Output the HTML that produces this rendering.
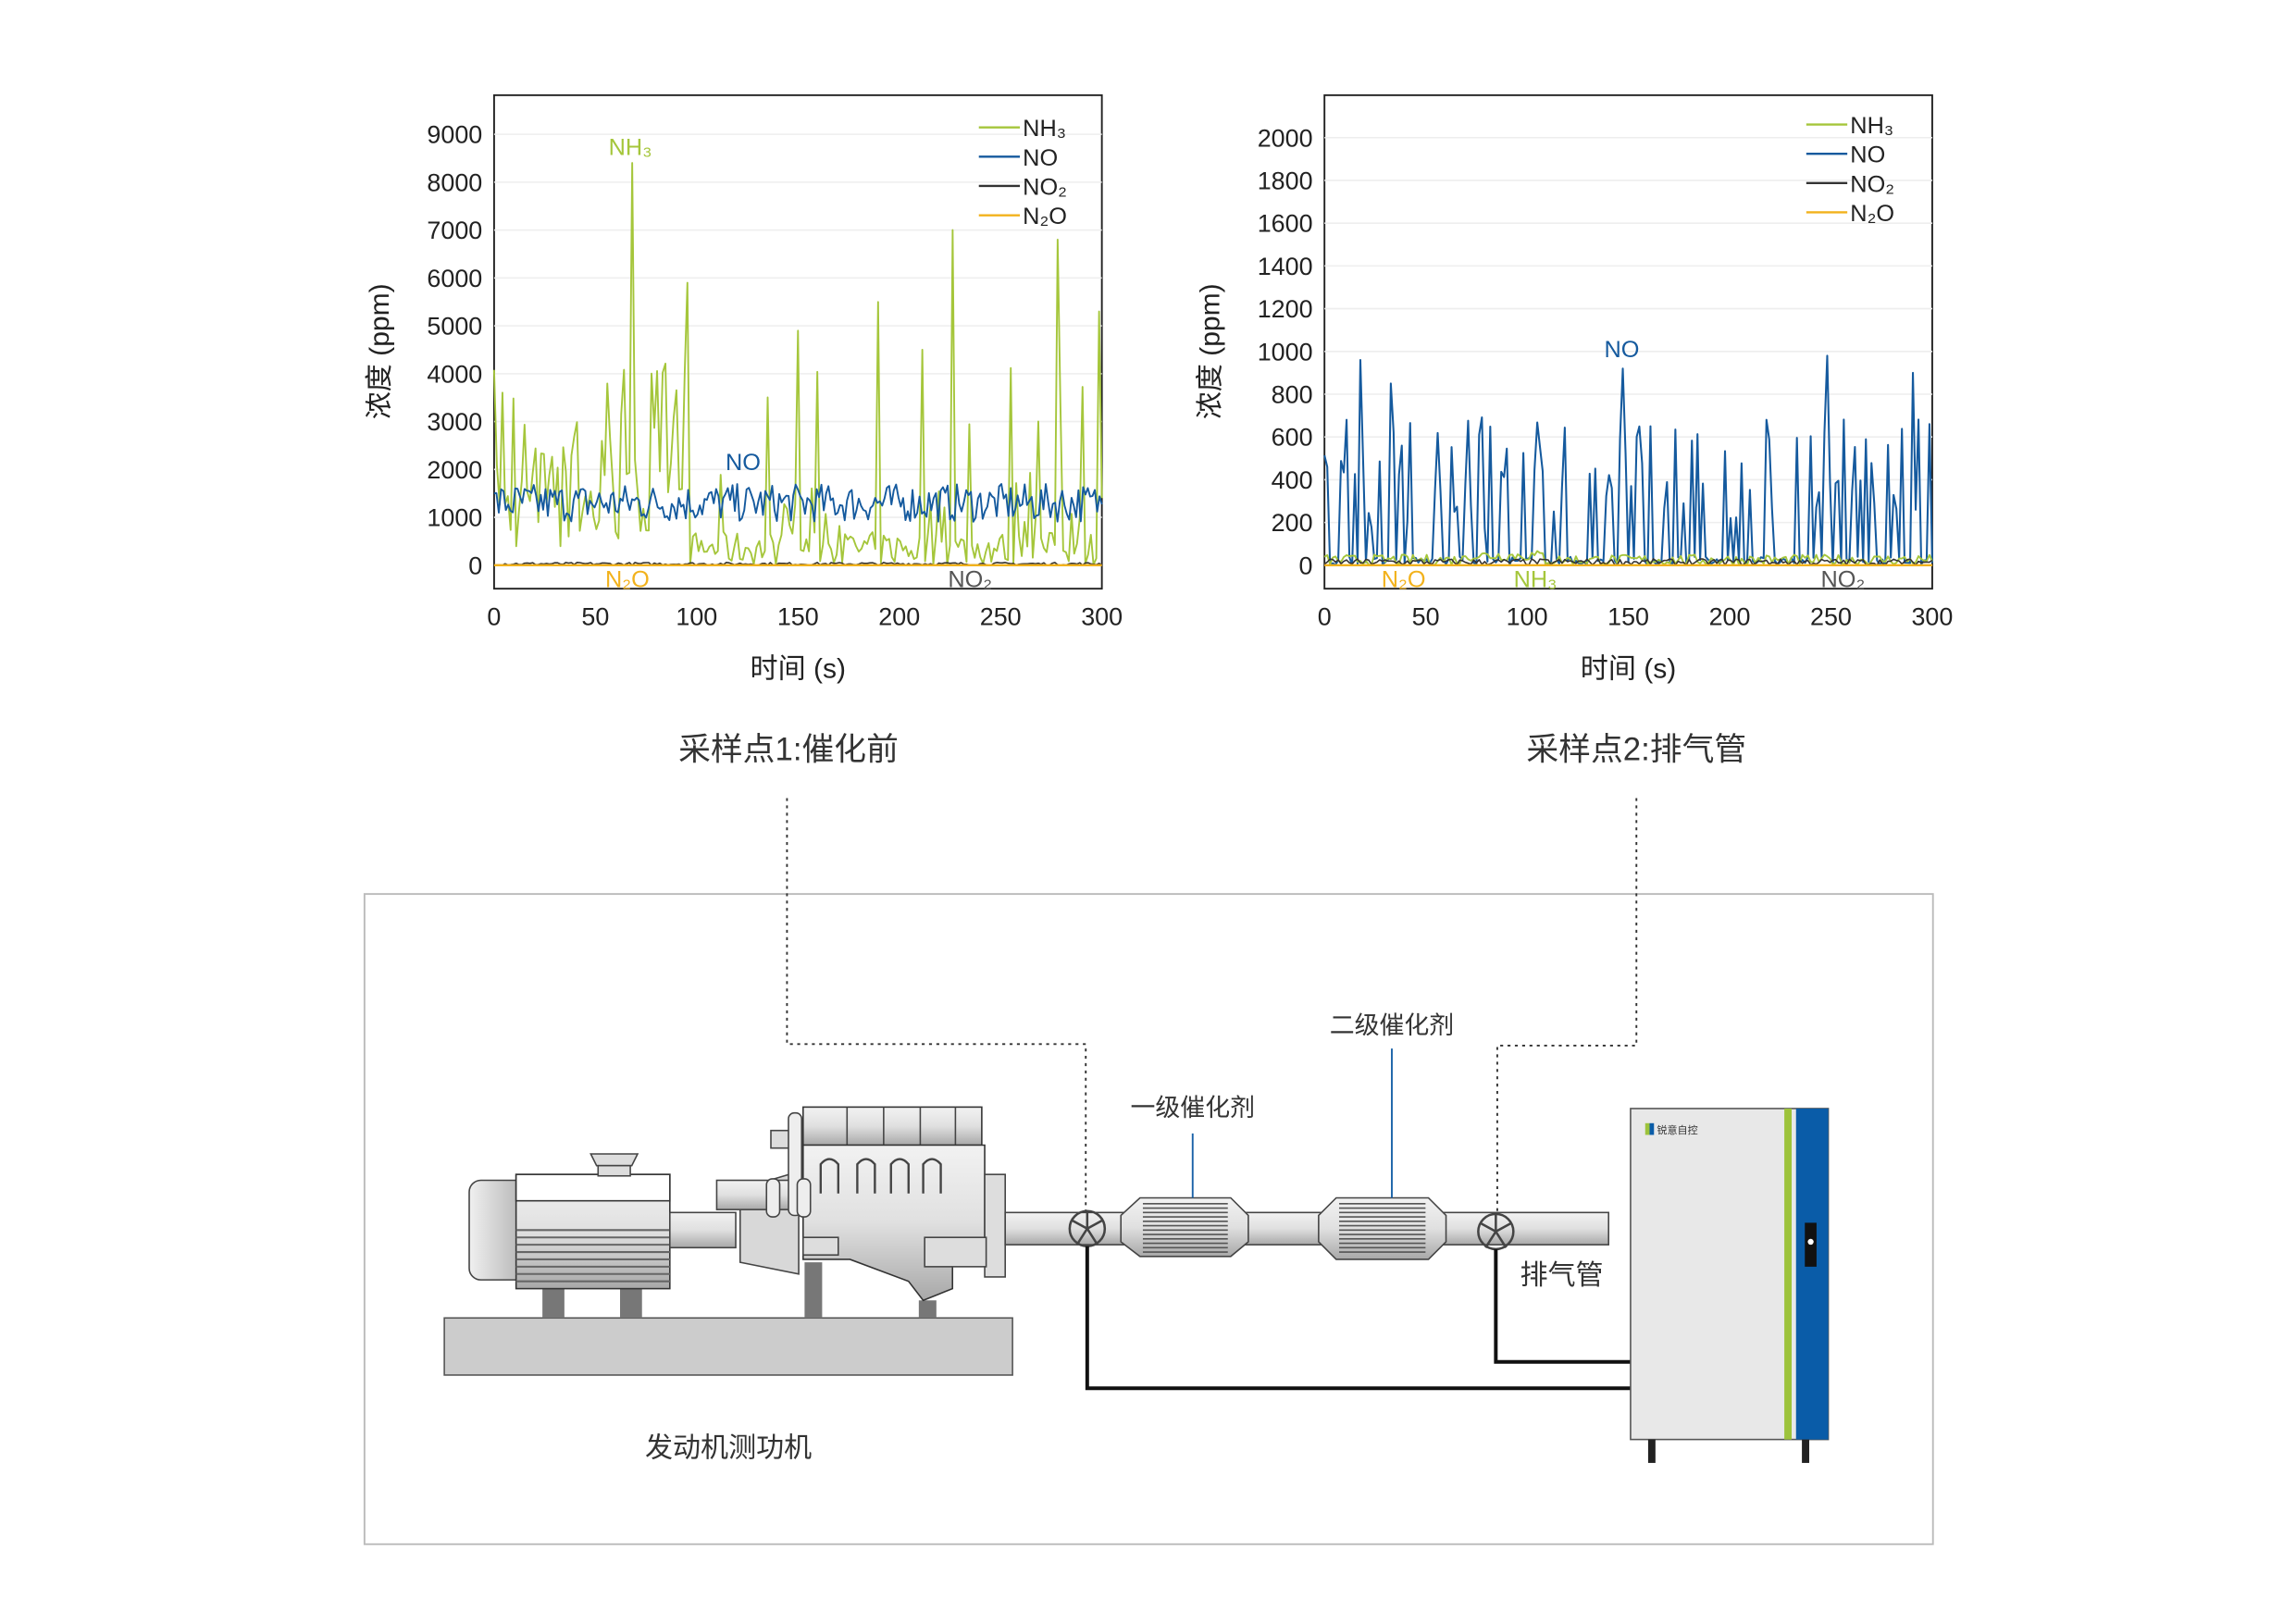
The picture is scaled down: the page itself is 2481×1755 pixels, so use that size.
<!DOCTYPE html>
<html><head><meta charset="utf-8">
<style>
html,body{margin:0;padding:0;background:#fff}
svg{display:block}
text{font-family:"Liberation Sans","Noto Sans CJK SC",sans-serif}
</style></head>
<body>
<svg id="s" width="2481" height="1755" viewBox="0 0 1567 1109" xmlns="http://www.w3.org/2000/svg">
<defs>
<linearGradient id="cyl" x1="0" y1="0" x2="0" y2="1">
<stop offset="0" stop-color="#f2f2f2"/><stop offset="0.5" stop-color="#e0e0e0"/><stop offset="1" stop-color="#a8a8a8"/>
</linearGradient>
<linearGradient id="cylh" x1="0" y1="0" x2="1" y2="0">
<stop offset="0" stop-color="#f0f0f0"/><stop offset="1" stop-color="#b0b0b0"/>
</linearGradient>
</defs>
<g id="c1"></g>
<g id="c2"></g>
<text x="538" y="519" font-size="22" text-anchor="middle" fill="#333">采样点1:催化前</text>
<text x="1117" y="519" font-size="22" text-anchor="middle" fill="#333">采样点2:排气管</text>
<rect x="248.5" y="610.5" width="1071" height="444" fill="none" stroke="#bbb" stroke-width="1.2"/>
<polyline points="537,545 537,713 741,713 741,830" fill="none" stroke="#333" stroke-width="1.2" stroke-dasharray="2,3"/>
<polyline points="1117,545 1117,714 1022,714 1022,830" fill="none" stroke="#333" stroke-width="1.2" stroke-dasharray="2,3"/>
<rect x="303" y="900" width="388" height="39" fill="#cccccc" stroke="#555"/>
<rect x="370" y="878" width="15" height="22" fill="#777"/>
<rect x="423" y="878" width="15" height="22" fill="#777"/>
<rect x="549" y="862" width="12" height="38" fill="#777"/>
<rect x="627" y="888" width="12" height="12" fill="#777"/>
<rect x="320" y="806" width="40" height="68" rx="8" fill="url(#cylh)" stroke="#444"/>
<rect x="352" y="802" width="105" height="78" fill="url(#cyl)" stroke="#333"/>
<rect x="352" y="802" width="105" height="18" fill="#fff" stroke="#333"/>
<g stroke="#666" stroke-width="1.3">
<line x1="352" y1="840" x2="457" y2="840"/><line x1="352" y1="845" x2="457" y2="845"/><line x1="352" y1="850" x2="457" y2="850"/><line x1="352" y1="855" x2="457" y2="855"/><line x1="352" y1="860" x2="457" y2="860"/><line x1="352" y1="865" x2="457" y2="865"/><line x1="352" y1="870" x2="457" y2="870"/><line x1="352" y1="875" x2="457" y2="875"/>
</g>
<polygon points="403,788 435,788 431,796 407,796" fill="#ddd" stroke="#444"/>
<rect x="408" y="796" width="22" height="7" fill="#ddd" stroke="#444"/>
<rect x="457" y="828" width="45" height="24" fill="url(#cyl)" stroke="#444"/>
<polygon points="505,812 545,800 545,870 505,862" fill="#d8d8d8" stroke="#444"/>
<rect x="489" y="806" width="60" height="20" fill="url(#cyl)" stroke="#444"/>
<rect x="548" y="756" width="122" height="26" fill="url(#cyl)" stroke="#333"/>
<g stroke="#444"><line x1="578" y1="756" x2="578" y2="782"/><line x1="603" y1="756" x2="603" y2="782"/><line x1="628" y1="756" x2="628" y2="782"/><line x1="652" y1="756" x2="652" y2="782"/></g>
<rect x="526" y="772" width="20" height="12" fill="#ddd" stroke="#444"/>
<rect x="538" y="760" width="9" height="70" rx="4" fill="#eee" stroke="#444"/>
<path d="M548,782 L672,782 L672,862 L650,862 L650,880 L630,888 L620,875 L580,860 L548,860 Z" fill="url(#cyl)" stroke="#333"/>
<g fill="none" stroke="#444" stroke-width="1.5">
<path d="M560,815 L560,795 Q566,788 572,795 L572,815"/>
<path d="M585,815 L585,795 Q591,788 597,795 L597,815"/>
<path d="M608,815 L608,795 Q614,788 620,795 L620,815"/>
<path d="M630,815 L630,795 Q636,788 642,795 L642,815"/>
</g>
<rect x="523" y="805" width="9" height="26" rx="4" fill="#eee" stroke="#444"/>
<rect x="544" y="805" width="9" height="26" rx="4" fill="#eee" stroke="#444"/>
<rect x="672" y="802" width="14" height="70" fill="#ddd" stroke="#444"/>
<rect x="631" y="845" width="42" height="20" fill="#ddd" stroke="#444"/>
<rect x="548" y="845" width="24" height="12" fill="#ddd" stroke="#444"/>
<rect x="686" y="828" width="412" height="22" fill="url(#cyl)" stroke="#444"/>
<polygon points="765,830 778,818 840,818 852,830 852,848 840,858 778,858 765,848" fill="url(#cyl)" stroke="#444"/>
<polygon points="900,830 912,818 975,818 987,830 987,848 975,860 912,860 900,848" fill="url(#cyl)" stroke="#444"/>
<g id="fins" stroke="#555" stroke-width="1"></g>
<g fill="none" stroke="#444" stroke-width="1.6">
<circle cx="742" cy="839" r="12"/><path d="M742,827 L742,839 L731,833 M742,839 L753,833 M742,839 L735,850 M742,839 L749,850"/>
<circle cx="1021" cy="841" r="12"/><path d="M1021,829 L1021,841 L1010,835 M1021,841 L1032,835 M1021,841 L1014,852 M1021,841 L1028,852"/>
</g>
<polyline points="742,851 742,948 1113,948" fill="none" stroke="#111" stroke-width="2.5"/>
<polyline points="1021,853 1021,930 1113,930" fill="none" stroke="#111" stroke-width="2.5"/>
<line x1="814" y1="774" x2="814" y2="818" stroke="#1a62a8" stroke-width="1.2"/>
<line x1="950" y1="716" x2="950" y2="818" stroke="#1a62a8" stroke-width="1.2"/>
<text x="814" y="762" font-size="17" text-anchor="middle" fill="#333">一级催化剂</text>
<text x="950" y="706" font-size="17" text-anchor="middle" fill="#333">二级催化剂</text>
<text x="1066" y="877" font-size="19" text-anchor="middle" fill="#333">排气管</text>
<text x="497" y="995" font-size="19" text-anchor="middle" fill="#333">发动机测功机</text>
<rect x="1113" y="757" width="135" height="226" fill="#e8e8e8" stroke="#555"/>
<rect x="1218" y="757" width="5" height="226" fill="#9dc33b"/>
<rect x="1226" y="757" width="22" height="226" fill="#0a5ca8"/>
<rect x="1232" y="835" width="8" height="30" fill="#111"/>
<circle cx="1236" cy="848" r="2" fill="#fff"/>
<rect x="1123" y="767" width="3" height="8" fill="#9dc33b"/><rect x="1126" y="767" width="3" height="8" fill="#0a5ca8"/>
<text x="1131" y="774" font-size="7" fill="#333">锐意自控</text>
<rect x="1125" y="983" width="5" height="16" fill="#222"/><rect x="1230" y="983" width="5" height="16" fill="#222"/>
</svg>
<script>
(function(){
var NS="http://www.w3.org/2000/svg";
function el(p,t,a,txt){var e=document.createElementNS(NS,t);for(var k in a)e.setAttribute(k,a[k]);if(txt!=null)e.textContent=txt;p.appendChild(e);return e;}
var seed=7;function r(){seed=(seed*16807)%2147483647;return seed/2147483647;}
var f=document.getElementById('fins');
for(var y=822;y<856;y+=3){el(f,'line',{x1:780,x2:838,y1:y,y2:y});}
for(var y=822;y<858;y+=3){el(f,'line',{x1:914,x2:973,y1:y,y2:y});}
var G="#a5c63b",B="#155a9e",K="#333",O="#f2b21c";
function chart(g,x0,x1,yTop,yBot,y0,ticks,scale,xl,yl){
 el(g,'rect',{x:x0,y:yTop,width:x1-x0,height:yBot-yTop,fill:'#fff',stroke:'#222','stroke-width':1.2});
 ticks.forEach(function(t){var y=y0-t*scale;if(t>0)el(g,'line',{x1:x0,x2:x1,y1:y,y2:y,stroke:'#eee'});
  el(g,'text',{x:x0-8,y:y+6,'font-size':17,'text-anchor':'end',fill:'#222'},t);});
 [0,50,100,150,200,250,300].forEach(function(v){el(g,'text',{x:x0+(x1-x0)*v/300,y:427,'font-size':17,'text-anchor':'middle',fill:'#222'},v);});
 el(g,'text',{x:(x0+x1)/2,y:463,'font-size':19,'text-anchor':'middle',fill:'#222'},'时间 (s)');
 el(g,'text',{x:0,y:0,'font-size':19,'text-anchor':'middle',fill:'#222',transform:'translate('+(x0-72)+',240) rotate(-90)'},'浓度 (ppm)');
 var lg=[["NH₃",G],["NO",B],["NO₂",K],["N₂O",O]];
 lg.forEach(function(l,i){var y=yl+i*20;el(g,'line',{x1:xl,x2:xl+28,y1:y,y2:y,stroke:l[1],'stroke-width':1.5});
  el(g,'text',{x:xl+30,y:y+6,'font-size':16,fill:'#222'},l[0]);});
}
function path(g,pts,c,w){el(g,'polyline',{points:pts.join(' '),fill:'none',stroke:c,'stroke-width':w||1.3,'stroke-linejoin':'round'});}
var g1=document.getElementById('c1');
chart(g1,337,752,65,402,386,[0,1000,2000,3000,4000,5000,6000,7000,8000,9000],0.0327,668,87);
var n=220,p=[];
for(var i=0;i<=n;i++){var x=337+415*i/n;var v;var q=r();
 if(i<70) v=q<0.5?1500+r()*2800:300+r()*1800; else v=q<0.2?800+r()*3500:r()*700;
 if(i==50)v=8400;if(i==70)v=5900;if(i==166)v=7000;if(i==204)v=6800;if(i==139)v=5500;if(i==155)v=4500;if(i==219)v=5300;if(i==110)v=4900;
 p.push(x.toFixed(1)+','+(386-v*0.0327).toFixed(1));}
path(g1,p,G,1.2);
p=[];for(var i=0;i<=260;i++){var x=337+415*i/260;var v=1300+(r()-0.5)*800;p.push(x.toFixed(1)+','+(386-v*0.0327).toFixed(1));}
path(g1,p,B,1.2);
p=[];for(var i=0;i<=n;i++){var x=337+415*i/n;var v=r()*60;p.push(x.toFixed(1)+','+(386-v*0.0327).toFixed(1));}
path(g1,p,K,1);
path(g1,['337,386','752,386'],O,1.5);
el(g1,'text',{x:430,y:106,'font-size':16,'text-anchor':'middle',fill:G},'NH₃');
el(g1,'text',{x:507,y:321,'font-size':16,'text-anchor':'middle',fill:B},'NO');
el(g1,'text',{x:428,y:401,'font-size':16,'text-anchor':'middle',fill:O},'N₂O');
el(g1,'text',{x:662,y:401,'font-size':16,'text-anchor':'middle',fill:'#555'},'NO₂');
var g2=document.getElementById('c2');
chart(g2,904,1319,65,402,386,[0,200,400,600,800,1000,1200,1400,1600,1800,2000],0.146,1233,85);
var s2=0.146;n=220;
p=[];for(var i=0;i<=n;i++){var x=904+415*i/n;var v;var q=r();
 v=q<0.45?150+r()*550:r()*40;
 if(i==13)v=960;if(i==108)v=920;if(i==182)v=980;if(i==213)v=900;if(i==24)v=850;
 p.push(x.toFixed(1)+','+(386-v*s2).toFixed(1));}
path(g2,p,B,1.3);
p=[];for(var i=0;i<=n;i++){var x=904+415*i/n;var v=r()*50+(i>50&&i<80?20:0);p.push(x.toFixed(1)+','+(386-v*s2).toFixed(1));}
path(g2,p,G,1.2);
p=[];for(var i=0;i<=n;i++){var x=904+415*i/n;var v=r()*30;p.push(x.toFixed(1)+','+(386-v*s2).toFixed(1));}
path(g2,p,K,1);
path(g2,['904,386','1319,386'],O,1.5);
el(g2,'text',{x:1107,y:244,'font-size':16,'text-anchor':'middle',fill:B},'NO');
el(g2,'text',{x:958,y:401,'font-size':16,'text-anchor':'middle',fill:O},'N₂O');
el(g2,'text',{x:1048,y:401,'font-size':16,'text-anchor':'middle',fill:G},'NH₃');
el(g2,'text',{x:1258,y:401,'font-size':16,'text-anchor':'middle',fill:'#555'},'NO₂');
})();
</script>
</body></html>
